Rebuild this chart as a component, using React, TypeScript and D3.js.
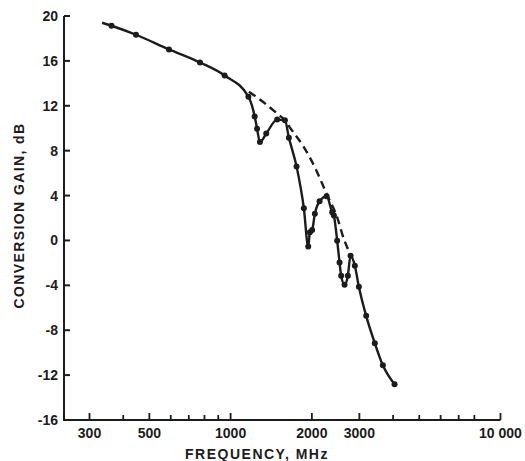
import React from 'react';
import * as d3 from 'd3';

const W = 525;
const H = 461;

// Solid measured curve (MHz, dB)
const solidFreq = [334, 362, 446, 591, 770, 950, 1164, 1228, 1253, 1284, 1355, 1488, 1589, 1644, 1755, 1868, 1939, 1967, 2005, 2052, 2136, 2268, 2379, 2413, 2482, 2533, 2568, 2644, 2719, 2782, 2886, 2987, 3179, 3422, 3665, 4050];
const solidGain = [19.4, 19.13, 18.33, 17.02, 15.86, 14.7, 12.81, 11.05, 9.96, 8.77, 9.52, 10.77, 10.71, 9.16, 6.6, 2.87, -0.55, 0.74, 0.94, 2.37, 3.49, 3.94, 2.51, 2.22, -0.02, -1.96, -3.15, -3.95, -3.15, -1.36, -2.25, -4.13, -6.72, -9.16, -11.13, -12.82];
const solidMarker = [false, true, true, true, true, true, true, true, true, true, true, true, true, true, true, true, true, true, true, true, true, true, true, true, true, true, true, true, true, true, true, true, true, true, true, true];

// Dashed envelope curve
const dashFreq = [1169, 1317, 1488, 1589, 1669, 1868, 2064, 2274, 2482, 2628, 2782];
const dashGain = [13.25, 12.36, 11.3, 10.71, 9.96, 8.32, 6.39, 4.09, 2.06, 0.13, -1.27];

// Axis ticks
const yTicks = [20, 16, 12, 8, 4, 0, -4, -8, -12, -16];
const xMajorTicks = [300, 500, 1000, 2000, 3000, 10000];
const xMajorLabels = ['300', '500', '1000', '2000', '3000', '10 000'];
const xMinorTicks = [400, 600, 700, 800, 900, 4000, 5000, 6000, 7000, 8000];

const INK = '#1c1c1c';
const FONT = "'Liberation Sans', Arial, sans-serif";

export default function App() {
  const x = d3.scaleLog().domain([300, 10000]).range([89.5, 500.5]);
  const y = d3.scaleLinear().domain([-16, 20]).range([420, 16]);
  const axisX = 64;
  const axisY = y(-16);

  const solid = solidFreq.map((f, i) => [f, solidGain[i]] as [number, number]);
  const dashed = dashFreq.map((f, i) => [f, dashGain[i]] as [number, number]);

  const line = d3
    .line<[number, number]>()
    .x((d) => x(d[0]))
    .y((d) => y(d[1]))
    .curve(d3.curveMonotoneX);

  return (
    <svg
      width={W}
      height={H}
      style={{ position: 'absolute', left: 0, top: 0, background: '#fff' }}
      fontFamily={FONT}
    >
      <rect x={0} y={0} width={W} height={H} fill="#fff" />
      {/* axes */}
      <line x1={axisX} x2={axisX} y1={y(20)} y2={axisY} stroke={INK} strokeWidth={2} />
      <line x1={axisX - 1} x2={x(10000)} y1={axisY} y2={axisY} stroke={INK} strokeWidth={2} />

      {yTicks.map((t) => (
        <g key={'y' + t}>
          <line x1={axisX} x2={axisX + 6} y1={y(t)} y2={y(t)} stroke={INK} strokeWidth={2} />
          <text
            x={axisX - 6}
            y={y(t)}
            dy="0.36em"
            textAnchor="end"
            fontSize={14}
            fontWeight="bold"
            fill={INK}
          >
            {t < 0 ? '-' + Math.abs(t) : String(t)}
          </text>
        </g>
      ))}

      {xMajorTicks.map((t, i) => (
        <g key={'xm' + t}>
          <line x1={x(t)} x2={x(t)} y1={axisY} y2={axisY - 7} stroke={INK} strokeWidth={1.8} />
          <text
            x={x(t)}
            y={438}
            textAnchor="middle"
            fontSize={14}
            fontWeight="bold"
            fill={INK}
          >
            {xMajorLabels[i]}
          </text>
        </g>
      ))}
      {xMinorTicks.map((t) => (
        <line key={'xn' + t} x1={x(t)} x2={x(t)} y1={axisY} y2={axisY - 5} stroke={INK} strokeWidth={1.8} />
      ))}

      {/* titles */}
      <text
        x={257}
        y={459}
        textAnchor="middle"
        fontSize={14}
        fontWeight="bold"
        letterSpacing={1.5}
        fill={INK}
      >
        FREQUENCY, MHz
      </text>
      <text
        transform={`translate(24,215.5) rotate(-90)`}
        textAnchor="middle"
        fontSize={14}
        fontWeight="bold"
        letterSpacing={1.4}
        fill={INK}
      >
        CONVERSION GAIN, dB
      </text>

      {/* curves */}
      <path d={line(dashed) || ''} fill="none" stroke={INK} strokeWidth={2.4} strokeDasharray="8,5" />
      <path d={line(solid) || ''} fill="none" stroke={INK} strokeWidth={2.4} strokeLinejoin="round" />
      {solid.map((d, i) =>
        solidMarker[i] ? <circle key={'p' + i} cx={x(d[0])} cy={y(d[1])} r={3} fill={INK} /> : null
      )}
    </svg>
  );
}
